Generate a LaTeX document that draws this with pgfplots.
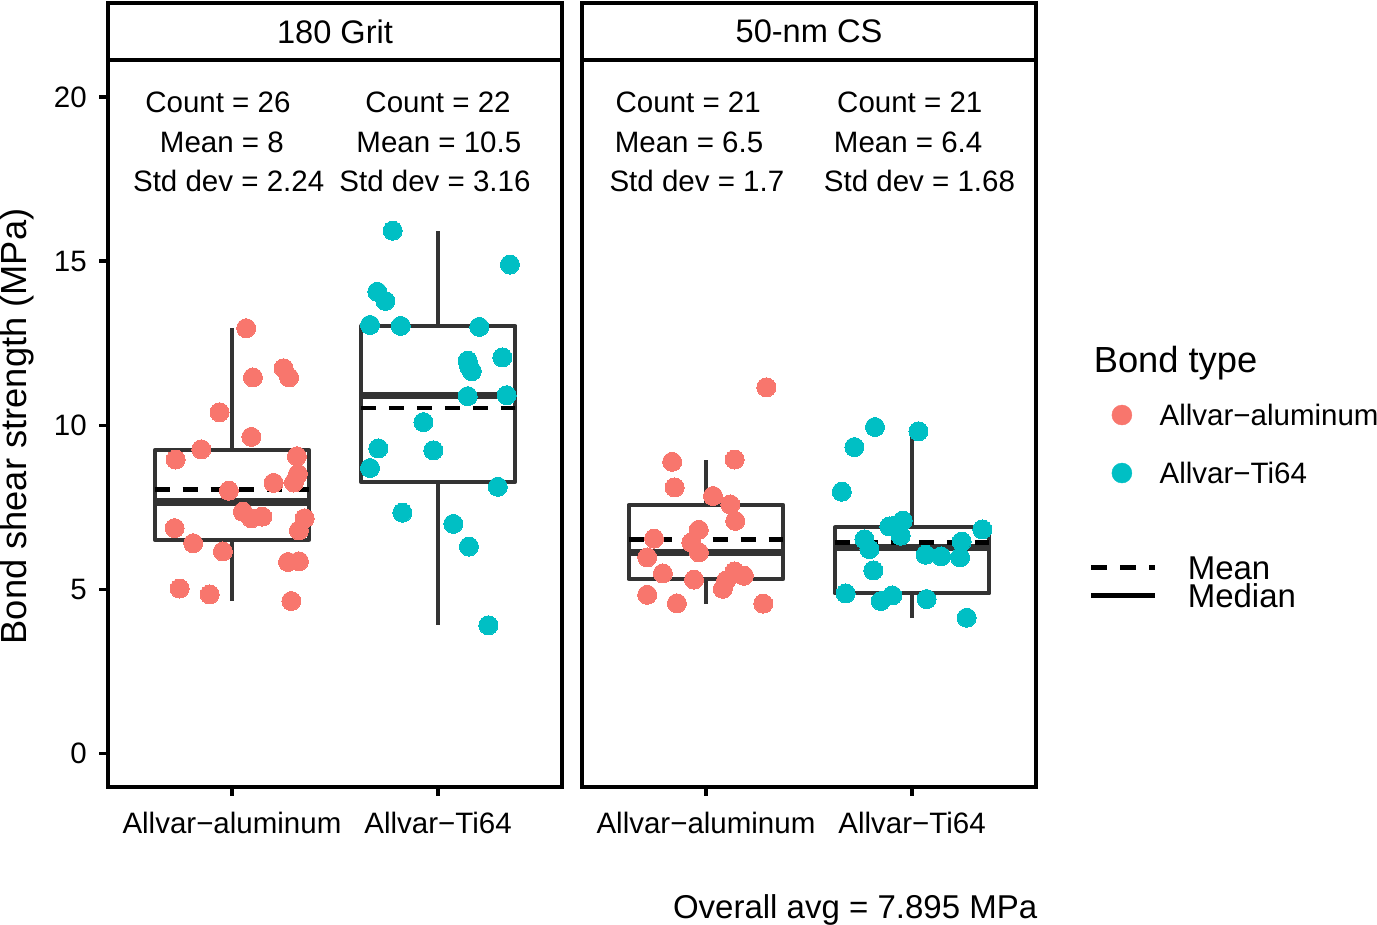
\documentclass[border=0pt]{standalone}
\usepackage{fontspec}
\setmainfont{Liberation Sans}
\usepackage{pgfplots}
\pgfplotsset{compat=1.18}
\usepgfplotslibrary{statistics}
\definecolor{alu}{HTML}{F8766D}
\definecolor{tic}{HTML}{00BFC4}
\definecolor{boxgray}{HTML}{333333}
\newcommand\fsA{\fontsize{29.5bp}{35bp}\selectfont}
\newcommand\fsB{\fontsize{32.6bp}{38bp}\selectfont}
\newcommand\fsC{\fontsize{36.3bp}{42bp}\selectfont}
\newcommand\fsD{\fontsize{33bp}{39bp}\selectfont}
\tikzset{strip/.style={line width=4.3bp, black, fill=white}}
\pgfplotsset{
  panel/.style={
    scale only axis, width=453.4bp, height=726.7bp,
    xmin=0.4, xmax=2.6, ymin=-1.006, ymax=21.13,
    axis line style={line width=4.3bp, black},
    xtick={1,2},
    xticklabels={Allvar−aluminum, Allvar−Ti64},
    tick align=outside, major tick length=9bp,
    tick style={line width=3.5bp, black},
    xtick pos=left, ytick pos=left,
    xticklabel style={font=\fsA, yshift=-13bp},
    yticklabel style={font=\fsA, xshift=-9bp},
    /pgf/number format/assume math mode=true,
    clip=false,
    boxplot/draw direction=y,
    /pgfplots/boxplot/every median/.style={line width=7.3bp},
  },
  bx/.style={boxgray, line width=4bp, line join=round, forget plot},
  alupts/.style={only marks, mark=*, mark size=9.5bp, alu, mark options={fill=alu, draw=alu, line width=0pt}, forget plot},
  tipts/.style={only marks, mark=*, mark size=9.5bp, tic, mark options={fill=tic, draw=tic, line width=0pt}, forget plot},
  meanline/.style={black, line width=4.7bp, dash pattern=on 15bp off 13bp, forget plot},
}
\begin{document}
\begin{tikzpicture}
\path[use as bounding box] (0bp,0bp) rectangle (1377bp,925bp);
% ---------------- Panel 1: 180 Grit
\begin{axis}[panel, at={(108.3bp,138.3bp)}, anchor=south west,
  ytick={0,5,10,15,20}]
\addplot[bx, boxplot prepared={lower whisker=4.65, lower quartile=6.52, median=7.67,
  upper quartile=9.24, upper whisker=12.96, draw position=1, box extend=0.75, whisker extend=0}] coordinates {};
\addplot[bx, boxplot prepared={lower whisker=3.91, lower quartile=8.28, median=10.91,
  upper quartile=13.03, upper whisker=15.93, draw position=2, box extend=0.75, whisker extend=0}] coordinates {};
\addplot[alupts] coordinates {
(1.069,12.96) (1.102,11.46) (1.251,11.74) (1.277,11.46) (0.940,10.40) (1.094,9.65)
(0.851,9.27) (0.727,8.96) (1.315,9.06) (1.320,8.52) (1.202,8.25) (1.301,8.26)
(0.985,8.01) (1.053,7.37) (1.094,7.17) (1.147,7.22) (1.353,7.17) (1.325,6.80)
(0.722,6.87) (0.812,6.41) (0.956,6.16) (1.272,5.84) (1.325,5.86) (0.746,5.03)
(0.892,4.85) (1.288,4.65)};
\addplot[tipts] coordinates {
(1.780,15.93) (2.349,14.90) (1.705,14.07) (1.744,13.79) (1.670,13.06) (1.819,13.03)
(2.200,13.00) (2.144,11.97) (2.164,11.65) (2.312,12.07) (2.144,10.89) (2.333,10.92)
(1.929,10.10) (1.710,9.30) (1.977,9.24) (1.670,8.70) (2.290,8.13) (1.827,7.34)
(2.074,7.00) (2.150,6.31) (2.244,3.91) (2.150,11.80)};
\addplot[meanline] coordinates {(0.625,8.05) (1.375,8.05)};
\addplot[meanline] coordinates {(1.625,10.53) (2.375,10.53)};
\draw[strip] (axis description cs:0,1) rectangle (axis description cs:1,1.0784);
\node[font=\fsB] at (axis description cs:0.5,1.0392) {180 Grit};
\node[font=\fsA, anchor=base] at (axis cs:0.932,19.54) {Count = 26};
\node[font=\fsA, anchor=base] at (axis cs:0.951,18.32) {Mean = 8};
\node[font=\fsA, anchor=base] at (axis cs:0.984,17.11) {Std dev = 2.24};
\node[font=\fsA, anchor=base] at (axis cs:2.000,19.54) {Count = 22};
\node[font=\fsA, anchor=base] at (axis cs:2.004,18.32) {Mean = 10.5};
\node[font=\fsA, anchor=base] at (axis cs:1.985,17.11) {Std dev = 3.16};
\node[font=\fsC, rotate=90, anchor=center] at (axis description cs:-0.2014,0.4957) {Bond shear strength (MPa)};
\end{axis}
% ---------------- Panel 2: 50-nm CS
\begin{axis}[panel, at={(582.3bp,138.3bp)}, anchor=south west,
  ytick=\empty,
  legend cell align=left,
  legend style={at={(axis description cs:1.1676,0.5259)}, anchor=north west,
    draw=none, fill=none, inner sep=0pt, outer sep=0pt,
    row sep=37bp, column sep=27.6bp,
    nodes={inner sep=0pt, text height=21bp, text depth=0pt, font=\fsA}}]
\addplot[bx, boxplot prepared={lower whisker=4.55, lower quartile=5.32, median=6.13,
  upper quartile=7.58, upper whisker=8.96, draw position=1, box extend=0.75, whisker extend=0}] coordinates {};
\addplot[bx, boxplot prepared={lower whisker=4.14, lower quartile=4.88, median=6.28,
  upper quartile=6.89, upper whisker=9.82, draw position=2, box extend=0.75, whisker extend=0}] coordinates {};
\addplot[alupts] coordinates {
(1.293,11.16) (0.836,8.89) (1.139,8.96) (0.848,8.11) (1.034,7.85) (1.118,7.59)
(1.142,7.09) (0.965,6.82) (0.748,6.55) (0.929,6.43) (0.966,6.13) (0.715,5.98)
(0.791,5.49) (0.942,5.30) (1.139,5.55) (1.184,5.42) (1.098,5.28) (1.082,5.02)
(0.715,4.84) (0.859,4.58) (1.278,4.57)};
\addplot[tipts] coordinates {
(1.820,9.95) (2.031,9.82) (1.720,9.34) (1.659,7.98) (1.955,7.10) (1.890,6.92)
(1.945,6.64) (2.341,6.83) (1.769,6.53) (2.241,6.46) (1.793,6.23) (2.066,6.06)
(2.141,6.01) (2.233,5.98) (1.812,5.58) (1.678,4.88) (1.904,4.82) (1.848,4.65)
(2.071,4.71) (2.265,4.14) (1.918,6.95)};
\addplot[meanline] coordinates {(0.625,6.53) (1.375,6.53)};
\addplot[meanline] coordinates {(1.625,6.44) (2.375,6.44)};
\addlegendimage{legend image code/.code={\fill[alu] (0bp,0bp) circle[radius=10bp];}}
\addlegendentry{Allvar−aluminum}
\addlegendimage{legend image code/.code={\fill[tic] (0bp,0bp) circle[radius=10bp];}}
\addlegendentry{Allvar−Ti64}
\draw[strip] (axis description cs:0,1) rectangle (axis description cs:1,1.0784);
\node[font=\fsB] at (axis description cs:0.5,1.0392) {50-nm CS};
\node[font=\fsA, anchor=base] at (axis cs:0.914,19.54) {Count = 21};
\node[font=\fsA, anchor=base] at (axis cs:0.918,18.32) {Mean = 6.5};
\node[font=\fsA, anchor=base] at (axis cs:0.956,17.11) {Std dev = 1.7};
\node[font=\fsA, anchor=base] at (axis cs:1.989,19.54) {Count = 21};
\node[font=\fsA, anchor=base] at (axis cs:1.981,18.32) {Mean = 6.4};
\node[font=\fsA, anchor=base] at (axis cs:2.036,17.11) {Std dev = 1.68};
\node[font=\fsC, anchor=base west] at (axis description cs:1.1204,0.5697) {Bond type};
\node[font=\fsD, anchor=base east] at (axis description cs:1.011,-0.1807) {Overall avg = 7.895 MPa};
\end{axis}
% ---------------- Line-type legend
\begin{axis}[scale only axis, width=453.4bp, height=726.7bp,
  at={(582.3bp,138.3bp)}, anchor=south west, hide axis,
  xmin=0, xmax=1, ymin=0, ymax=1,
  legend cell align=left,
  legend style={at={(axis description cs:1.1170,0.3181)}, anchor=north west,
    draw=none, fill=none, inner sep=0pt, outer sep=0pt,
    row sep=4.8bp, column sep=30.7bp,
    nodes={inner sep=0pt, text height=23.6bp, text depth=0pt, font=\fsD}}]
\addlegendimage{legend image code/.code={\draw[black, line width=5bp, dash pattern=on 16bp off 13bp] (0bp,0bp) -- (63.3bp,0bp);}}
\addlegendentry{Mean}
\addlegendimage{legend image code/.code={\draw[black, line width=5bp] (0bp,0bp) -- (63.3bp,0bp);}}
\addlegendentry{Median}
\end{axis}
\end{tikzpicture}
\end{document}
